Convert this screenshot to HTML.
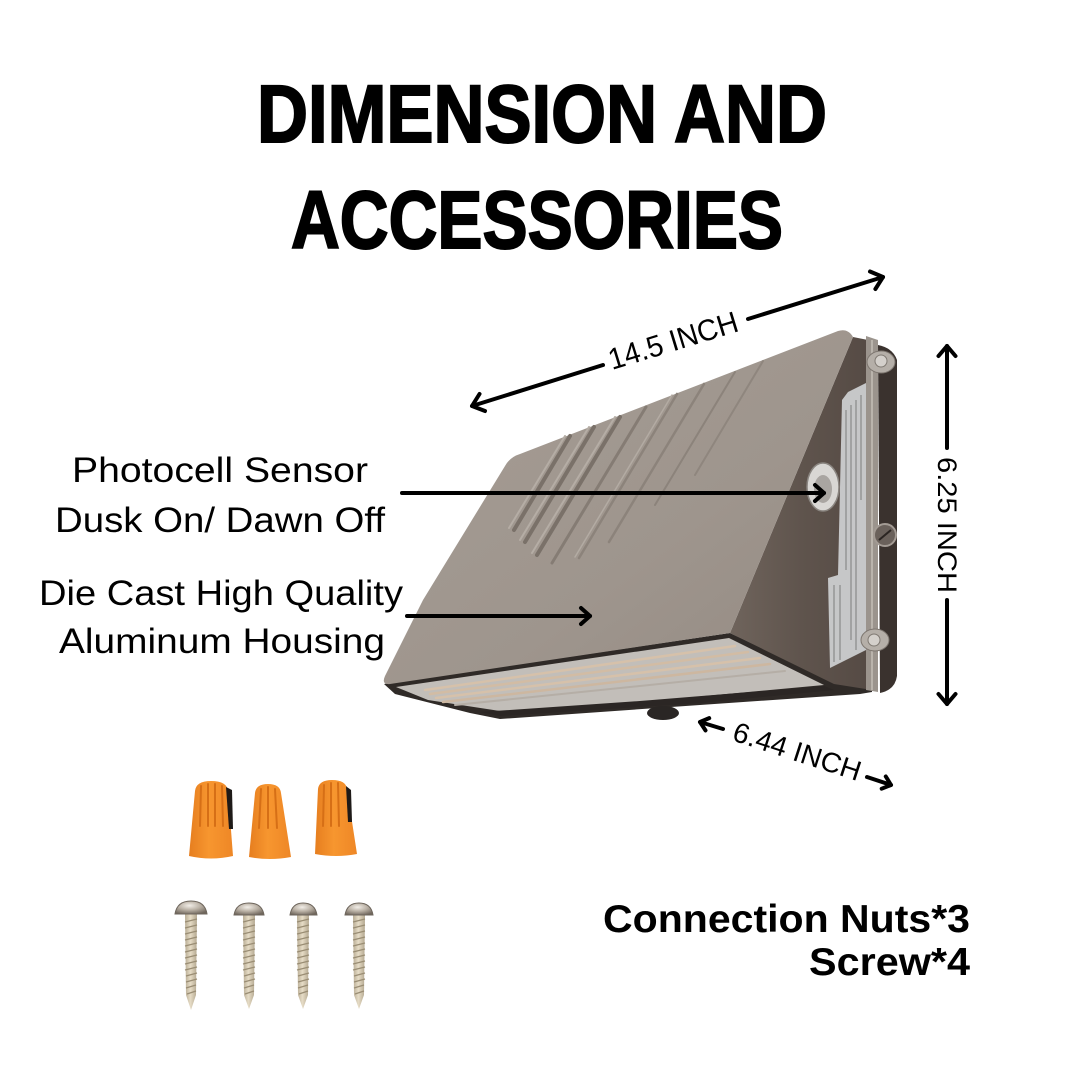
<!DOCTYPE html>
<html>
<head>
<meta charset="utf-8">
<style>
  html,body{margin:0;padding:0;background:#fff;}
  svg{display:block;}
</style>
</head>
<body>
<svg width="1080" height="1080" viewBox="0 0 1080 1080" xmlns="http://www.w3.org/2000/svg">
  <defs>
    <linearGradient id="face" x1="0" y1="0" x2="1" y2="1">
      <stop offset="0" stop-color="#a69d95"/>
      <stop offset="0.6" stop-color="#9e958d"/>
      <stop offset="1" stop-color="#948a82"/>
    </linearGradient>
    <linearGradient id="side" x1="0" y1="0" x2="1" y2="0">
      <stop offset="0" stop-color="#6f645c"/>
      <stop offset="0.5" stop-color="#5f544d"/>
      <stop offset="1" stop-color="#554a44"/>
    </linearGradient>
    <linearGradient id="nut" x1="0" y1="0" x2="1" y2="0">
      <stop offset="0" stop-color="#e67e1f"/>
      <stop offset="0.45" stop-color="#f7962f"/>
      <stop offset="1" stop-color="#ee8726"/>
    </linearGradient>
    <linearGradient id="shaft" x1="0" y1="0" x2="1" y2="0">
      <stop offset="0" stop-color="#b8ac94"/>
      <stop offset="0.45" stop-color="#e6dcc6"/>
      <stop offset="1" stop-color="#b3a78f"/>
    </linearGradient>
    <radialGradient id="head" cx="0.45" cy="0.35" r="0.7">
      <stop offset="0" stop-color="#f2eee8"/>
      <stop offset="0.5" stop-color="#b9b0a4"/>
      <stop offset="1" stop-color="#6f665c"/>
    </radialGradient>
  </defs>

  <!-- TITLE -->
  <text x="257" y="142" font-family="Liberation Sans, Arial, sans-serif" font-weight="bold" font-size="82" textLength="570" lengthAdjust="spacingAndGlyphs" fill="#000" stroke="#000" stroke-width="2">DIMENSION AND</text>
  <text x="291" y="248" font-family="Liberation Sans, Arial, sans-serif" font-weight="bold" font-size="82" textLength="492" lengthAdjust="spacingAndGlyphs" fill="#000" stroke="#000" stroke-width="2">ACCESSORIES</text>

  <!-- LAMP -->
  <polygon points="384,684 730,633 834,682 872,684 872,692 860,694 700,705 500,719 470,713 395,694" fill="#2f2a27"/>
  <polygon points="396,687 729,638 824,685 640,702 500,711 428,700" fill="#c2beb9"/>
  <g stroke-linecap="round">
    <line x1="425" y1="690" x2="735" y2="646" stroke="#d6c1aa" stroke-width="2.5"/>
    <line x1="430" y1="694" x2="748" y2="652" stroke="#d2bca4" stroke-width="2.5"/>
    <line x1="436" y1="698" x2="760" y2="658" stroke="#d6c1aa" stroke-width="2.5"/>
    <line x1="443" y1="702" x2="770" y2="664" stroke="#cdb7a0" stroke-width="2.5"/>
    <line x1="455" y1="705" x2="785" y2="671" stroke="#b5aea6" stroke-width="2"/>
  </g>
  <polygon points="480,712 640,701 824,686 834,690 700,703 500,716" fill="#2b2624"/>
  <ellipse cx="663" cy="713" rx="16" ry="7" fill="#2a2624"/>

  <!-- side panel -->
  <polygon points="853,337 868,340 872,690 834,684 730,633" fill="url(#side)"/>

  <!-- front face -->
  <path d="M505,466 Q510,457 520,454 L838,331 Q848,328 853,337 L730,633 L390,684 Q381,685 385,676 L423,600 Z" fill="url(#face)"/>

  <!-- grooves -->
  <g stroke-linecap="round" fill="none">
    <line x1="514" y1="530" x2="570" y2="436" stroke="#7a7169" stroke-width="4"/>
    <line x1="509" y1="528" x2="565" y2="436" stroke="#b5ada5" stroke-width="2"/>
    <line x1="525" y1="542" x2="594" y2="427" stroke="#7a7169" stroke-width="4"/>
    <line x1="520" y1="540" x2="589" y2="427" stroke="#b5ada5" stroke-width="2"/>
    <line x1="537" y1="555" x2="620" y2="417" stroke="#7a7169" stroke-width="4"/>
    <line x1="532" y1="553" x2="615" y2="417" stroke="#b5ada5" stroke-width="2"/>
    <line x1="552" y1="563" x2="646" y2="407" stroke="#857c74" stroke-width="3"/>
    <line x1="579" y1="558" x2="677" y2="394" stroke="#8c837b" stroke-width="2.5"/>
    <line x1="575" y1="557" x2="672" y2="395" stroke="#b3aba3" stroke-width="1.5"/>
    <line x1="609" y1="542" x2="704" y2="384" stroke="#8c837b" stroke-width="2.5"/>
    <line x1="655" y1="505" x2="735" y2="372" stroke="#8c837b" stroke-width="2"/>
    <line x1="695" y1="475" x2="763" y2="361" stroke="#8f867e" stroke-width="2"/>
  </g>

  <!-- sticker -->
  <polygon points="842,400 848,392 866,383 866,650 830,668 828,578 838,575" fill="#c6c7c8"/>
  <g stroke="#6a6a6a" stroke-width="0.8">
    <line x1="846" y1="410" x2="846" y2="570"/>
    <line x1="851" y1="405" x2="851" y2="640"/>
    <line x1="856" y1="400" x2="856" y2="650"/>
    <line x1="861" y1="395" x2="861" y2="500"/>
    <line x1="834" y1="585" x2="834" y2="662"/>
    <line x1="840" y1="585" x2="840" y2="660"/>
  </g>

  <!-- sensor -->
  <ellipse cx="823" cy="487" rx="16" ry="24" fill="#d9d7d4" stroke="#8a8580" stroke-width="1.5"/>
  <ellipse cx="823" cy="489" rx="9" ry="14" fill="#a9a5a1"/>

  <!-- bracket -->
  <path d="M878,345 Q893,348 897,360 L897,676 Q895,690 880,693 Z" fill="#3a322e"/>
  <polygon points="866,336 878,340 878,692 866,690" fill="#9b948d"/>
  <line x1="872" y1="340" x2="872" y2="690" stroke="#c4beb7" stroke-width="1.5"/>
  <ellipse cx="881" cy="362" rx="14" ry="11" fill="#b5afa8" stroke="#7d766f" stroke-width="1"/>
  <circle cx="881" cy="361" r="6" fill="#d4d0cb" stroke="#807a73" stroke-width="1"/>
  <ellipse cx="875" cy="640" rx="14" ry="11" fill="#b5afa8" stroke="#7d766f" stroke-width="1"/>
  <circle cx="874" cy="640" r="6" fill="#d4d0cb" stroke="#807a73" stroke-width="1"/>
  <circle cx="885" cy="535" r="11" fill="#6a615b" stroke="#a39b94" stroke-width="2"/>
  <line x1="879" y1="540" x2="891" y2="530" stroke="#2b2522" stroke-width="2"/>

  <!-- DIMENSION ARROWS -->
  <g stroke="#000" stroke-width="4" stroke-linecap="round" stroke-linejoin="round" fill="none">
    <line x1="472" y1="406" x2="603" y2="365"/>
    <line x1="748" y1="319" x2="883" y2="277"/>
    <polyline points="485,411 472,406 479.5,394"/>
    <polyline points="870,271.5 883,277 875.4,289"/>
    <line x1="947" y1="346" x2="947" y2="448"/>
    <line x1="947" y1="600" x2="947" y2="704"/>
    <polyline points="938.5,356 947,346 955.5,356"/>
    <polyline points="938.5,694 947,704 955.5,694"/>
    <line x1="700" y1="722" x2="723" y2="729"/>
    <polyline points="705.5,730.4 700,722 709.2,718.1"/>
    <line x1="867" y1="777" x2="891" y2="785"/>
    <polyline points="885.8,776.5 891,785 881.7,788.7"/>
    <line x1="402" y1="493" x2="824" y2="493"/>
    <polyline points="815,485 824,493 815,501"/>
    <line x1="407" y1="616" x2="590" y2="616"/>
    <polyline points="581,608 590,616 581,624"/>
  </g>

  <g font-family="Liberation Sans, Arial, sans-serif" fill="#000">
    <text transform="translate(612,370) rotate(-17)" font-size="30" textLength="134" lengthAdjust="spacingAndGlyphs">14.5 INCH</text>
    <text transform="translate(938,457) rotate(90)" font-size="27" textLength="136" lengthAdjust="spacingAndGlyphs">6.25 INCH</text>
    <text transform="translate(731,740) rotate(18)" font-size="28" textLength="133" lengthAdjust="spacingAndGlyphs">6.44 INCH</text>

    <text x="72" y="482" font-size="35" textLength="296" lengthAdjust="spacingAndGlyphs">Photocell Sensor</text>
    <text x="55" y="532" font-size="35" textLength="330" lengthAdjust="spacingAndGlyphs">Dusk On/ Dawn Off</text>
    <text x="39" y="605" font-size="35" textLength="364" lengthAdjust="spacingAndGlyphs">Die Cast High Quality</text>
    <text x="59" y="653" font-size="35" textLength="326" lengthAdjust="spacingAndGlyphs">Aluminum Housing</text>

    <text x="603" y="932" font-size="39" font-weight="bold" textLength="367" lengthAdjust="spacingAndGlyphs">Connection Nuts*3</text>
    <text x="809" y="975" font-size="39" font-weight="bold" textLength="161" lengthAdjust="spacingAndGlyphs">Screw*4</text>
  </g>

  <!-- WIRE NUTS -->
  <g>
    <path d="M195,791 Q196,781 211,781 Q227,781 228,791 L233,856 Q211,861 189,856 Z" fill="url(#nut)"/>
    <path d="M226,787 L232,790 L233,829 L229,829 Z" fill="#1e1a18"/>
    <g stroke="#d66f16" stroke-width="2" stroke-linecap="round">
      <line x1="201" y1="786" x2="200" y2="826"/>
      <line x1="208" y1="784" x2="208" y2="826"/>
      <line x1="215" y1="784" x2="215" y2="826"/>
      <line x1="222" y1="786" x2="223" y2="826"/>
    </g>

    <path d="M255,793 Q256,784 268,784 Q280,784 281,793 L291,857 Q270,861 249,857 Z" fill="url(#nut)"/>
    <g stroke="#d66f16" stroke-width="2" stroke-linecap="round">
      <line x1="261" y1="789" x2="259" y2="828"/>
      <line x1="268" y1="787" x2="268" y2="828"/>
      <line x1="275" y1="789" x2="277" y2="828"/>
    </g>

    <path d="M318,789 Q319,780 332,780 Q346,780 347,789 L357,854 Q336,858 315,854 Z" fill="url(#nut)"/>
    <path d="M346,786 L351,790 L352,822 L348,822 Z" fill="#1e1a18"/>
    <g stroke="#d66f16" stroke-width="2" stroke-linecap="round">
      <line x1="324" y1="785" x2="323" y2="826"/>
      <line x1="331" y1="783" x2="331" y2="826"/>
      <line x1="338" y1="783" x2="339" y2="826"/>
    </g>
  </g>

  <!-- SCREWS -->
  <g>
    <g>
      <polygon points="185,914 197,914 196,995 191,1010 186,995" fill="url(#shaft)"/>
      <path d="M175,914 Q177,901 191,901 Q205,901 207,914 Z" fill="url(#head)" stroke="#6e665d" stroke-width="1"/>
    </g>
    <g>
      <polygon points="243,915 255,915 254,995 249,1009 244,995" fill="url(#shaft)"/>
      <path d="M234,915 Q236,903 249,903 Q262,903 264,915 Z" fill="url(#head)" stroke="#6e665d" stroke-width="1"/>
    </g>
    <g>
      <polygon points="297,915 309,915 308,995 303,1009 298,995" fill="url(#shaft)"/>
      <path d="M290,915 Q292,903 303,903 Q315,903 317,915 Z" fill="url(#head)" stroke="#6e665d" stroke-width="1"/>
    </g>
    <g>
      <polygon points="353,915 365,915 364,995 359,1009 354,995" fill="url(#shaft)"/>
      <path d="M345,915 Q347,903 359,903 Q371,903 373,915 Z" fill="url(#head)" stroke="#6e665d" stroke-width="1"/>
    </g>
    <g stroke="#9a8d74" stroke-width="1.2">
      <path d="M185,922 l12,-3 M185,928 l12,-3 M185,934 l12,-3 M185,940 l12,-3 M185,946 l12,-3 M185,952 l12,-3 M185,958 l12,-3 M185,964 l12,-3 M185,970 l12,-3 M186,976 l11,-3 M186,982 l11,-3 M186,988 l10,-3 M187,994 l9,-3"/>
      <path d="M243,922 l12,-3 M243,928 l12,-3 M243,934 l12,-3 M243,940 l12,-3 M243,946 l12,-3 M243,952 l12,-3 M243,958 l12,-3 M243,964 l12,-3 M243,970 l12,-3 M244,976 l11,-3 M244,982 l11,-3 M244,988 l10,-3 M245,994 l9,-3"/>
      <path d="M297,922 l12,-3 M297,928 l12,-3 M297,934 l12,-3 M297,940 l12,-3 M297,946 l12,-3 M297,952 l12,-3 M297,958 l12,-3 M297,964 l12,-3 M297,970 l12,-3 M298,976 l11,-3 M298,982 l11,-3 M298,988 l10,-3 M299,994 l9,-3"/>
      <path d="M353,922 l12,-3 M353,928 l12,-3 M353,934 l12,-3 M353,940 l12,-3 M353,946 l12,-3 M353,952 l12,-3 M353,958 l12,-3 M353,964 l12,-3 M353,970 l12,-3 M354,976 l11,-3 M354,982 l11,-3 M354,988 l10,-3 M355,994 l9,-3"/>
    </g>
  </g>
</svg>
</body>
</html>
